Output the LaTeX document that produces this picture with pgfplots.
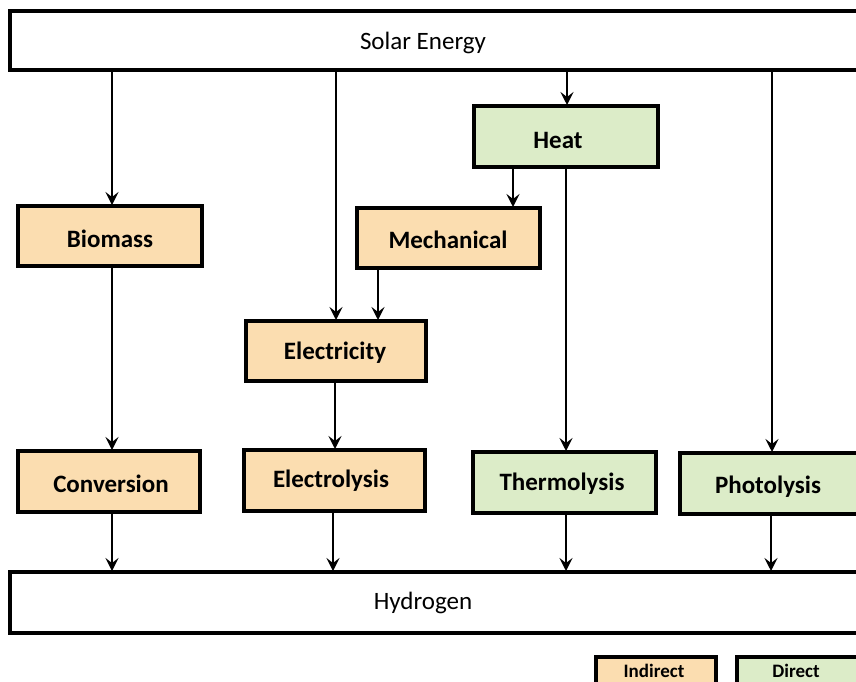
\documentclass[border=0pt]{standalone}
\usepackage{pgfplots}
\pgfplotsset{compat=1.18}
\usepackage{fontspec}
\setmainfont{Carlito}
\usetikzlibrary{arrows.meta}
\definecolor{ind}{RGB}{251,221,176}
\definecolor{dir}{RGB}{220,236,200}
\newcommand\lab{\fontsize{25}{30}\selectfont}
\newcommand\leg{\fontsize{19}{23}\selectfont}
\begin{document}
\begin{tikzpicture}
\begin{axis}[scale only axis, width=856pt, height=681pt,
  xmin=0, xmax=856, ymin=0, ymax=681, y dir=reverse, hide axis,
  clip=true]
% boxes
\addplot[draw=black, line width=3.2pt, fill=white] coordinates {(10,11) (870,11) (870,70) (10,70)} -- cycle;
\addplot[draw=black, line width=3.2pt, fill=white] coordinates {(10,572) (870,572) (870,633) (10,633)} -- cycle;
\addplot[draw=black, line width=3.2pt, fill=dir] coordinates {(474,106) (658,106) (658,167) (474,167)} -- cycle;
\addplot[draw=black, line width=3.2pt, fill=ind] coordinates {(18,206) (202,206) (202,266) (18,266)} -- cycle;
\addplot[draw=black, line width=3.2pt, fill=ind] coordinates {(357,208) (540,208) (540,268) (357,268)} -- cycle;
\addplot[draw=black, line width=3.2pt, fill=ind] coordinates {(246,321) (426,321) (426,381) (246,381)} -- cycle;
\addplot[draw=black, line width=3.2pt, fill=ind] coordinates {(18,451) (200,451) (200,512) (18,512)} -- cycle;
\addplot[draw=black, line width=3.2pt, fill=ind] coordinates {(244,450) (425,450) (425,511) (244,511)} -- cycle;
\addplot[draw=black, line width=3.2pt, fill=dir] coordinates {(473,452) (656,452) (656,513) (473,513)} -- cycle;
\addplot[draw=black, line width=3.2pt, fill=dir] coordinates {(680,453) (870,453) (870,514) (680,514)} -- cycle;
\addplot[draw=black, line width=3.2pt, fill=ind] coordinates {(596,657) (716,657) (716,690) (596,690)} -- cycle;
\addplot[draw=black, line width=3.2pt, fill=dir] coordinates {(737,657) (870,657) (870,690) (737,690)} -- cycle;
% arrows
\pgfplotsset{arr/.style={black, line width=2.2pt, -{Stealth[length=13pt,width=13pt,inset=5pt]}}}
\addplot[arr] coordinates {(112,72) (112,205)};
\addplot[arr] coordinates {(336,72) (336,320)};
\addplot[arr] coordinates {(567,72) (567,105)};
\addplot[arr] coordinates {(772,72) (772,452)};
\addplot[arr] coordinates {(513,169) (513,207)};
\addplot[arr] coordinates {(566,169) (566,451)};
\addplot[arr] coordinates {(378,270) (378,320)};
\addplot[arr] coordinates {(335,383) (335,449)};
\addplot[arr] coordinates {(112,268) (112,450)};
\addplot[arr] coordinates {(112,514) (112,571)};
\addplot[arr] coordinates {(333,513) (333,571)};
\addplot[arr] coordinates {(566,515) (566,571)};
\addplot[arr] coordinates {(771,516) (771,571)};
% labels
\node[font=\lab] at (axis cs:423,43) {Solar Energy};
\node[font=\lab] at (axis cs:423,603) {Hydrogen};
\node[font=\lab\bfseries] at (axis cs:558,140) {Heat};
\node[font=\lab\bfseries] at (axis cs:110,239) {Biomass};
\node[font=\lab\bfseries] at (axis cs:448,240) {Mechanical};
\node[font=\lab\bfseries] at (axis cs:335,353) {Electricity};
\node[font=\lab\bfseries] at (axis cs:111,484) {Conversion};
\node[font=\lab\bfseries] at (axis cs:331,481) {Electrolysis};
\node[font=\lab\bfseries] at (axis cs:562,484) {Thermolysis};
\node[font=\lab\bfseries] at (axis cs:768,487) {Photolysis};
\node[font=\leg\bfseries] at (axis cs:654,671) {Indirect};
\node[font=\leg\bfseries] at (axis cs:796,671) {Direct};
\end{axis}
\pgfresetboundingbox
\useasboundingbox (current axis.south west) rectangle (current axis.north east);
\end{tikzpicture}
\end{document}
